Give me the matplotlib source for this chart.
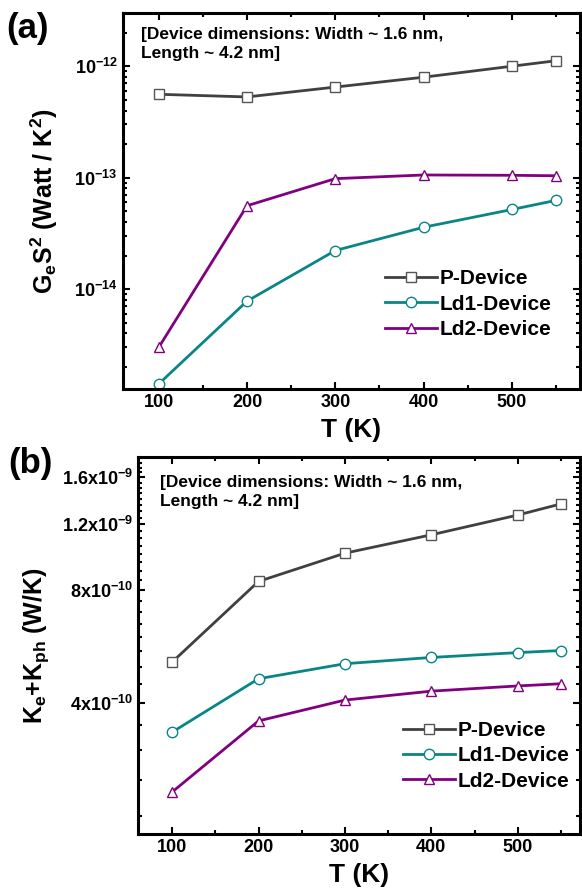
import matplotlib
matplotlib.use("Agg")
import matplotlib.pyplot as plt
from matplotlib.ticker import FixedLocator, LogLocator, NullFormatter

plt.rcParams['font.family'] = ['Liberation Sans', 'DejaVu Sans']
plt.rcParams['font.weight'] = 'bold'
plt.rcParams['mathtext.fontset'] = 'custom'
plt.rcParams['mathtext.rm'] = 'Liberation Sans:bold'
plt.rcParams['mathtext.bf'] = 'Liberation Sans:bold'
plt.rcParams['mathtext.it'] = 'Liberation Sans:bold'
plt.rcParams['mathtext.default'] = 'bf'

# data
T = [100, 200, 300, 400, 500, 550]
names = ['P-Device', 'Ld1-Device', 'Ld2-Device']
gs2_p = [5.6e-13, 5.3e-13, 6.5e-13, 7.97e-13, 1.0e-12, 1.12e-12]
gs2_ld1 = [1.41e-15, 7.8e-15, 2.22e-14, 3.59e-14, 5.18e-14, 6.26e-14]
gs2_ld2 = [3.0e-15, 5.6e-14, 9.8e-14, 1.057e-13, 1.05e-13, 1.04e-13]
gs2_ticks = [1e-14, 1e-13, 1e-12]
gs2_labels = ['10$^{-14}$', '10$^{-13}$', '10$^{-12}$']
k_p = [5.15e-10, 8.45e-10, 1.005e-9, 1.125e-9, 1.27e-9, 1.36e-9]
k_ld1 = [3.35e-10, 4.65e-10, 5.10e-10, 5.30e-10, 5.46e-10, 5.53e-10]
k_ld2 = [2.32e-10, 3.59e-10, 4.08e-10, 4.31e-10, 4.45e-10, 4.51e-10]
k_ticks = [4e-10, 8e-10, 1.2e-9, 1.6e-9]
k_labels = ['4x10$^{-10}$', '8x10$^{-10}$', '1.2x10$^{-9}$', '1.6x10$^{-9}$']
# minor ticks every 0.5x10^-10, skipping the labelled ones
k_minor = [i * 5e-11 for i in range(4, 37) if i % 8 != 0]

colors = ['#404040', '#0a8585', '#800080']
edge_colors = ['#555555', '#0a8585', '#800080']
markers = ['s', 'o', '^']
note = '[Device dimensions: Width ~ 1.6 nm,\nLength ~ 4.2 nm]'

fig = plt.figure(figsize=(5.82, 8.93), dpi=100)
ax1 = fig.add_axes([0.2105, 0.5644, 0.786, 0.421])
ax2 = fig.add_axes([0.237, 0.0657, 0.7596, 0.4222])


def style(ax, xlim):
    for s in ax.spines.values():
        s.set_linewidth(2.2)
    ax.tick_params(which='both', direction='in', top=True, right=True, width=1.5, labelsize=13)
    ax.tick_params(which='major', length=5)
    ax.tick_params(which='minor', length=3)
    ax.set_xlim(*xlim)
    ax.xaxis.set_major_locator(FixedLocator([100, 200, 300, 400, 500]))
    ax.xaxis.set_minor_locator(FixedLocator([150, 250, 350, 450, 550]))
    ax.set_xlabel('T (K)', fontsize=19, fontweight='bold', labelpad=5)


def draw(ax, series):
    for ys, n, c, ec, m in zip(series, names, colors, edge_colors, markers):
        ax.plot(T, ys, color=c, lw=2, marker=m, ms=7.5, mfc='white', mec=ec, mew=1.0, label=n)


draw(ax1, [gs2_p, gs2_ld1, gs2_ld2])
ax1.set_yscale('log')
ax1.set_ylim(1.27e-15, 3e-12)
ax1.yaxis.set_major_locator(FixedLocator(gs2_ticks))
ax1.set_yticklabels(gs2_labels)
ax1.yaxis.set_minor_locator(LogLocator(base=10, subs=range(2, 10), numticks=20))
ax1.yaxis.set_minor_formatter(NullFormatter())
style(ax1, (59, 577))
ax1.set_ylabel('G$_e$S$^2$ (Watt / K$^2$)', fontsize=18, fontweight='bold', labelpad=10)
ax1.text(0.04, 0.962, note, transform=ax1.transAxes, fontsize=12.5, fontweight='bold',
         va='top', ha='left', linespacing=1.3)
ax1.legend(loc='upper left', bbox_to_anchor=(0.574, 0.318), frameon=False, fontsize=15,
           handlelength=2.5, handletextpad=0.1, labelspacing=0.3, borderaxespad=0, borderpad=0)

draw(ax2, [k_p, k_ld1, k_ld2])
ax2.set_yscale('log')
ax2.set_ylim(1.79e-10, 1.81e-9)
ax2.yaxis.set_major_locator(FixedLocator(k_ticks))
ax2.set_yticklabels(k_labels)
ax2.yaxis.set_minor_locator(FixedLocator(k_minor))
ax2.yaxis.set_minor_formatter(NullFormatter())
style(ax2, (60.5, 572))
ax2.set_ylabel('K$_e$+K$_{ph}$ (W/K)', fontsize=18, fontweight='bold', labelpad=8)
ax2.text(0.05, 0.952, note, transform=ax2.transAxes, fontsize=12.5, fontweight='bold',
         va='top', ha='left', linespacing=1.3)
ax2.legend(loc='upper left', bbox_to_anchor=(0.6, 0.3), frameon=False, fontsize=15,
           handlelength=2.5, handletextpad=0.1, labelspacing=0.3, borderaxespad=0, borderpad=0)

fig.text(0.01, 0.968, '(a)', fontsize=25, fontweight='bold', va='center', ha='left')
fig.text(0.014, 0.481, '(b)', fontsize=25, fontweight='bold', va='center', ha='left')

fig.savefig('out.png', dpi=100)
